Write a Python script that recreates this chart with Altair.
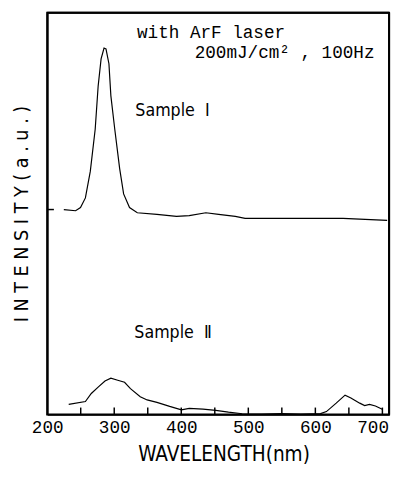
import altair as alt
import pandas as pd

# ---- data ----
s1_wl = [224.8, 242.4, 249.7, 257.0, 264.3, 271.6, 276.0, 280.4, 284.8, 287.7, 292.1,
         295.0, 300.8, 308.1, 314.0, 322.8, 334.4, 363.7, 392.9, 411.9, 436.7, 455.7,
         480.6, 495.2, 543.4, 593.1, 641.3, 707.1]
s1_int = [51.0, 50.7, 51.5, 53.9, 60.5, 71.0, 81.7, 88.5, 91.2, 91.0, 87.3,
          79.3, 71.0, 61.2, 54.9, 51.5, 50.2, 49.8, 49.3, 49.5, 50.2, 49.8,
          49.3, 48.8, 48.8, 48.8, 48.8, 48.3]

s2_wl = [232.1, 257.0, 265.8, 276.0, 286.2, 295.0, 305.2, 315.4, 324.2, 338.8, 349.1,
         363.7, 382.7, 400.2, 411.9, 432.4, 451.4, 470.4, 490.8, 520.0, 549.3, 578.5,
         607.7, 616.5, 631.1, 644.3, 653.0, 666.2, 673.5, 680.8, 689.6, 699.8]
s2_int = [2.5, 3.2, 5.2, 6.8, 8.3, 9.0, 8.5, 8.0, 6.4, 4.4, 3.6,
          3.0, 2.0, 1.15, 1.5, 1.3, 1.0, 0.56, 0.17, 0.1, 0.2, 0.05,
          0.2, 0.7, 2.8, 4.8, 4.1, 2.8, 2.2, 2.5, 2.1, 1.3]

minor_ticks = [250, 300, 350, 400, 450, 500, 550, 600, 650, 700]
tick_labels = [200, 300, 400, 500, 600, 700]

x_domain = [200, 710]
y_domain = [0, 100]

annot_text = ["with ArF laser", "200mJ/cm² , 100Hz"]
annot_wl = [334.0, 420.0]
annot_int = [94.9, 90.0]

sample_text = ["Sample\u00a0\u00a0Ⅰ", "Sample\u00a0\u00a0Ⅱ"]
sample_wl = [331.5, 330.0]
sample_int = [75.6, 20.2]

marker_wl = [200, 210]
marker_int = 51.0

NARROW = "Liberation Sans Narrow, DejaVu Sans Condensed, Arial Narrow, sans-serif"
MONO = "Liberation Mono, DejaVu Sans Mono, monospace"

lines_df = pd.concat([
    pd.DataFrame({"wavelength": s1_wl, "intensity": s1_int, "sample": "I"}),
    pd.DataFrame({"wavelength": s2_wl, "intensity": s2_int, "sample": "II"}),
])
ticks_df = pd.DataFrame({"wavelength": minor_ticks, "y0": 0.0, "y1": 1.7})
annot_df = pd.DataFrame({"wavelength": annot_wl, "intensity": annot_int, "text": annot_text})
sample_df = pd.DataFrame({"wavelength": sample_wl, "intensity": sample_int, "text": sample_text})
marker_df = pd.DataFrame({"w0": [marker_wl[0]], "w1": [marker_wl[1]], "intensity": [marker_int]})
top_df = pd.DataFrame({"w0": [x_domain[0]], "w1": [x_domain[1]], "intensity": [y_domain[1]]})
right_df = pd.DataFrame({"wavelength": [x_domain[1]], "y0": [y_domain[0]], "y1": [y_domain[1]]})

xscale = alt.Scale(domain=x_domain, nice=False, zero=False)
yscale = alt.Scale(domain=y_domain, nice=False, zero=False)

x_axis = alt.Axis(
    values=tick_labels, ticks=False, grid=False,
    labelFont=MONO, labelFontSize=18, labelColor="black", labelPadding=4,
    labelFlush=False,
    labelOffset=alt.condition("datum.value == 700", alt.value(-10), alt.value(0)),
    title="WAVELENGTH(nm)", titleFont=NARROW, titleFontSize=21,
    titleFontWeight="normal", titleColor="black", titlePadding=8, titleX=180,
    domainColor="black", domainWidth=2,
)
y_axis = alt.Axis(
    labels=False, ticks=False, grid=False,
    title="I N T E N S I T Y ( a . u . )", titleFont=NARROW, titleFontSize=20,
    titleFontWeight="normal", titleColor="black", titlePadding=16,
    domainColor="black", domainWidth=2,
)

curves = alt.Chart(lines_df).mark_line(color="black", strokeWidth=1.2).encode(
    x=alt.X("wavelength:Q", scale=xscale, axis=x_axis),
    y=alt.Y("intensity:Q", scale=yscale, axis=y_axis),
    detail="sample:N",
)

tick_rules = alt.Chart(ticks_df).mark_rule(color="black", strokeWidth=1.5).encode(
    x=alt.X("wavelength:Q", scale=xscale),
    y=alt.Y("y0:Q", scale=yscale),
    y2="y1:Q",
)

marker = alt.Chart(marker_df).mark_rule(color="black", strokeWidth=1.5).encode(
    x=alt.X("w0:Q", scale=xscale),
    x2="w1:Q",
    y=alt.Y("intensity:Q", scale=yscale),
)

top_frame = alt.Chart(top_df).mark_rule(color="black", strokeWidth=2).encode(
    x=alt.X("w0:Q", scale=xscale),
    x2="w1:Q",
    y=alt.Y("intensity:Q", scale=yscale),
)

right_frame = alt.Chart(right_df).mark_rule(color="black", strokeWidth=2).encode(
    x=alt.X("wavelength:Q", scale=xscale),
    y=alt.Y("y0:Q", scale=yscale),
    y2="y1:Q",
)

annots = alt.Chart(annot_df).mark_text(
    font=MONO, fontSize=18, align="left", baseline="middle", color="black"
).encode(
    x=alt.X("wavelength:Q", scale=xscale),
    y=alt.Y("intensity:Q", scale=yscale),
    text="text:N",
)

samples = alt.Chart(sample_df).mark_text(
    font=NARROW, fontSize=18, align="left", baseline="middle", color="black"
).encode(
    x=alt.X("wavelength:Q", scale=xscale),
    y=alt.Y("intensity:Q", scale=yscale),
    text="text:N",
)

chart = alt.layer(curves, tick_rules, marker, top_frame, right_frame, annots, samples).properties(
    width=349, height=410,
    autosize=alt.AutoSizeParams(type="none"),
    padding={"left": 40, "top": 0, "right": 5, "bottom": 55},
    background="white",
).configure_view(
    stroke="black", strokeWidth=2
)

chart.save("out.html", embed_options={"renderer": "svg", "actions": False})
